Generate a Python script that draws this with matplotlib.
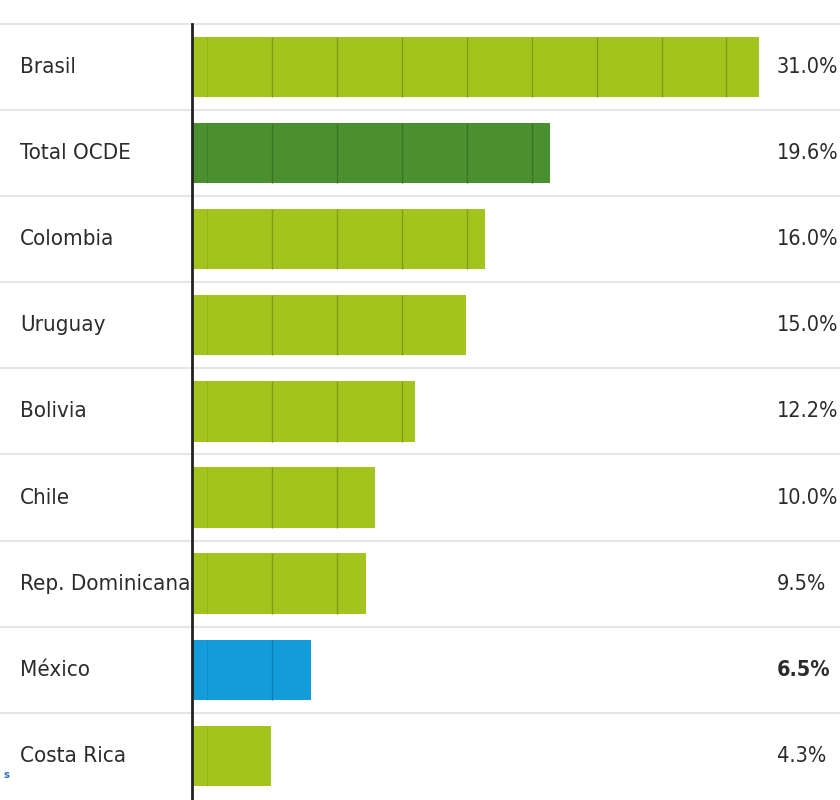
import numpy as np
import matplotlib
matplotlib.use("Agg")
import matplotlib.pyplot as plt
import matplotlib.transforms as mtransforms

countries = ["Brasil", "Total OCDE", "Colombia", "Uruguay", "Bolivia",
             "Chile", "Rep. Dominicana", "México", "Costa Rica"]
values = [31.0, 19.6, 16.0, 15.0, 12.2, 10.0, 9.5, 6.5, 4.3]
labels = ["31.0%", "19.6%", "16.0%", "15.0%", "12.2%", "10.0%", "9.5%", "6.5%", "4.3%"]

light_green = "#a2c41c"
colors = [light_green, "#4b9030", light_green, light_green, light_green,
          light_green, light_green, "#149bd9", light_green]
line_colors = ["#7f9d12", "#3a7425", "#7f9d12", "#7f9d12", "#7f9d12",
               "#7f9d12", "#7f9d12", "#0f7fb5", "#7f9d12"]

plt.rcParams['font.family'] = ['DejaVu Sans']
plt.rcParams['font.stretch'] = 'condensed'

fig = plt.figure(figsize=(8.4, 8), dpi=100)
ax = fig.add_axes([0, 0, 1, 1])
# 0 of the value axis sits at x=192 px, 31 -> ~759 px
ax.set_xlim(-10.5, 35.43)
ax.set_ylim(8.513, -0.778)
ax.axis("off")

y = np.arange(len(countries))
bar_h = 0.7
ax.barh(y, values, height=bar_h, color=colors, zorder=2)

# darker vertical rules inside the bars
grid_x = 4.37 + 3.55 * np.arange(8)
for yi, v, lc in zip(y, values, line_colors):
    gx = grid_x[grid_x < v - 0.1]
    ax.vlines(gx, yi - bar_h / 2, yi + bar_h / 2, color=lc, lw=1.0, zorder=3)
    ax.vlines([0.8], yi - bar_h / 2, yi + bar_h / 2, color=lc, lw=0.6, alpha=0.5, zorder=3)

# row separators across the whole width
for s in np.arange(len(countries)) - 0.5:
    ax.axhline(s, color="#e6e6e6", lw=1.5, zorder=1)

# value axis line
ax.plot([0, 0], [-0.5, 8.513], color="#222222", lw=2, zorder=4, clip_on=False)

trans = mtransforms.blended_transform_factory(ax.transAxes, ax.transData)
for yi, name, lab in zip(y, countries, labels):
    ax.text(20 / 840, yi, name, transform=trans, ha="left", va="center",
            fontsize=16, color="#2b2b2b", fontstretch="condensed")
    ax.text(777 / 840, yi, lab, transform=trans, ha="left", va="center",
            fontsize=15.5, color="#2b2b2b", fontstretch="condensed",
            fontweight="bold" if name == "México" else "normal")

ax.text(3 / 840, 25 / 800, "s", transform=ax.transAxes, ha="left", va="center",
        fontsize=8, color="#2f6fb5", fontweight="bold")

fig.savefig("out.png", dpi=100)
